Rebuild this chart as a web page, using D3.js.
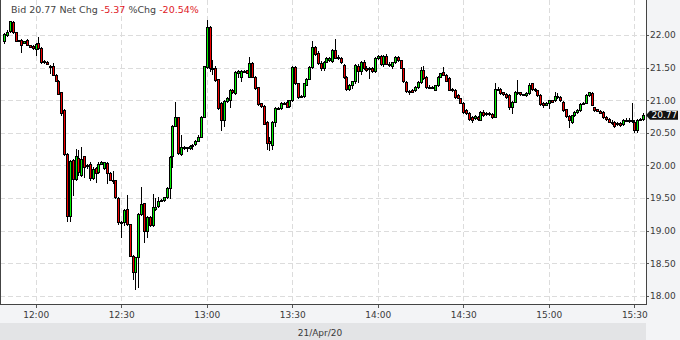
<!DOCTYPE html>
<html>
<head>
<meta charset="utf-8">
<style>
  body { margin: 0; background: #fff; font-family: "DejaVu Sans", sans-serif; }
  svg { display: block; }
  .grid line { stroke: #dcdcdc; stroke-dasharray: 5,3; shape-rendering: crispEdges; }
  .axis text { font-size: 9px; fill: #3a3a3a; font-family: "DejaVu Sans", sans-serif; }
  .axis line { stroke: #555; shape-rendering: crispEdges; }
  .axis path { display: none; }
  .wick { stroke: #000; shape-rendering: crispEdges; }
  .body { stroke: #000; stroke-width: 1; shape-rendering: crispEdges; }
</style>
</head>
<body>
<svg id="chart" width="680" height="340"></svg>
<script src="https://cdnjs.cloudflare.com/ajax/libs/d3/7.8.5/d3.min.js"></script>
<script>
// one-minute bars, 21 Apr 2020, first bar at 11:49
const firstBar = new Date(2020, 3, 21, 11, 49);

const open = [
  21.90,22.00,22.06,22.20,22.04,21.92,21.93,21.88,21.93,21.84,
  21.83,21.78,21.88,21.80,21.58,21.59,21.52,21.52,21.39,21.30,
  21.12,20.85,20.18,19.22,20.09,19.79,20.12,19.86,20.14,20.00,
  20.03,19.81,19.96,19.90,20.03,19.96,20.04,19.89,19.77,19.77,
  19.50,19.13,19.13,19.33,19.10,18.62,18.36,18.59,19.25,19.42,
  19.00,19.21,19.09,19.33,19.38,19.47,19.47,19.51,19.65,20.14,
  20.61,20.74,20.17,20.28,20.28,20.27,20.31,20.33,20.38,20.44,
  20.75,21.51,22.12,21.50,21.50,21.32,20.96,20.69,20.99,21.01,
  21.16,21.11,21.42,21.36,21.45,21.46,21.36,21.57,21.36,21.20,
  20.95,20.91,20.67,20.38,20.31,20.67,20.88,20.88,20.96,20.98,
  20.91,21.00,21.51,21.26,21.06,21.06,21.24,21.33,21.51,21.82,
  21.72,21.57,21.49,21.59,21.62,21.60,21.77,21.66,21.64,21.54,
  21.36,21.17,21.23,21.29,21.53,21.45,21.59,21.50,21.49,21.49,
  21.45,21.64,21.68,21.55,21.68,21.56,21.53,21.58,21.67,21.61,
  21.49,21.28,21.14,21.15,21.15,21.21,21.28,21.46,21.36,21.21,
  21.21,21.16,21.23,21.36,21.44,21.39,21.34,21.17,21.16,21.08,
  21.03,20.96,20.85,20.81,20.75,20.72,20.75,20.70,20.82,20.80,
  20.81,20.79,20.75,21.17,21.17,21.12,21.10,21.08,20.90,20.98,
  21.13,21.12,21.09,21.08,21.11,21.26,21.17,21.15,21.08,20.96,
  20.93,20.95,21.00,21.00,21.06,21.05,20.98,20.86,20.76,20.66,
  20.77,20.82,20.85,20.95,20.96,21.08,21.11,20.89,20.86,20.84,
  20.82,20.75,20.71,20.67,20.67,20.65,20.65,20.63,20.70,20.68,
  20.69,20.67,20.54,20.70,20.71
];
const high = [
  22.03,22.07,22.22,22.21,22.05,21.93,21.94,21.91,21.94,21.85,
  21.85,21.87,21.97,21.81,21.61,21.60,21.54,21.57,21.40,21.31,
  21.13,20.86,20.19,20.08,20.10,20.25,20.24,20.29,20.15,20.02,
  20.05,19.97,19.98,20.05,20.07,20.06,20.05,19.90,19.92,19.78,
  19.51,19.15,19.33,19.55,19.11,18.63,18.60,19.27,19.67,19.43,
  19.22,19.22,19.57,19.50,19.52,19.49,19.52,19.67,20.14,20.62,
  20.98,20.75,20.47,20.30,20.29,20.31,20.33,20.39,20.47,20.76,
  21.53,22.23,22.13,21.62,21.52,21.33,20.98,21.00,21.05,21.17,
  21.17,21.45,21.46,21.47,21.47,21.47,21.67,21.58,21.37,21.21,
  20.96,20.92,20.68,20.44,20.68,20.90,20.89,20.97,20.98,21.00,
  21.01,21.52,21.52,21.27,21.08,21.27,21.34,21.52,21.90,21.83,
  21.76,21.60,21.60,21.66,21.67,21.78,21.94,21.70,21.66,21.55,
  21.37,21.25,21.30,21.55,21.56,21.60,21.62,21.52,21.51,21.51,
  21.66,21.70,21.70,21.70,21.71,21.58,21.59,21.68,21.68,21.62,
  21.50,21.30,21.15,21.17,21.22,21.30,21.51,21.52,21.37,21.23,
  21.22,21.24,21.37,21.42,21.51,21.40,21.35,21.18,21.17,21.09,
  21.04,20.97,20.86,20.82,20.76,20.77,20.76,20.83,20.85,20.82,
  20.82,20.80,21.27,21.21,21.18,21.13,21.11,21.09,20.99,21.14,
  21.31,21.13,21.10,21.12,21.27,21.27,21.18,21.16,21.09,20.97,
  20.97,21.01,21.01,21.12,21.11,21.06,20.99,20.87,20.77,20.78,
  20.83,20.86,20.95,20.97,21.09,21.13,21.12,20.90,20.87,20.85,
  20.83,20.76,20.72,20.69,20.68,20.66,20.66,20.71,20.72,20.72,
  20.96,20.70,20.71,20.72,20.81
];
const low = [
  21.88,21.99,22.05,22.03,21.90,21.90,21.74,21.87,21.84,21.81,
  21.78,21.70,21.79,21.57,21.57,21.55,21.42,21.38,21.29,21.09,
  20.77,20.16,19.15,19.15,19.55,19.78,19.85,19.84,19.83,19.96,
  19.78,19.80,19.75,19.89,20.02,19.95,19.73,19.77,19.73,19.50,
  19.10,18.91,19.09,19.09,18.61,18.26,18.10,18.14,19.24,18.83,
  18.90,19.08,19.08,19.32,19.37,19.45,19.46,19.50,19.50,19.98,
  20.60,20.18,20.16,20.26,20.22,20.26,20.25,20.32,20.37,20.43,
  20.74,21.50,21.45,21.40,21.30,20.87,20.54,20.60,20.98,20.90,
  21.11,21.10,21.36,21.30,21.44,21.41,21.35,21.35,21.17,20.93,
  20.90,20.63,20.26,20.24,20.26,20.60,20.86,20.87,20.95,20.89,
  20.90,20.99,21.25,21.04,21.05,21.05,21.23,21.32,21.50,21.70,
  21.55,21.47,21.46,21.58,21.60,21.58,21.64,21.63,21.57,21.34,
  21.16,21.15,21.18,21.26,21.28,21.40,21.48,21.45,21.34,21.44,
  21.44,21.63,21.54,21.53,21.55,21.52,21.50,21.57,21.60,21.49,
  21.28,21.12,21.10,21.12,21.14,21.19,21.26,21.33,21.19,21.19,
  21.18,21.15,21.22,21.35,21.38,21.29,21.15,21.14,21.04,21.03,
  20.95,20.81,20.79,20.70,20.67,20.71,20.70,20.69,20.76,20.78,
  20.78,20.72,20.74,21.16,21.10,21.08,21.04,20.86,20.80,20.97,
  21.10,21.08,21.08,21.07,21.10,21.16,21.14,21.07,20.93,20.89,
  20.92,20.88,20.97,20.99,21.03,20.99,20.84,20.75,20.59,20.65,
  20.76,20.80,20.84,20.94,20.95,21.07,20.92,20.84,20.83,20.80,
  20.73,20.70,20.66,20.63,20.59,20.62,20.61,20.62,20.68,20.66,
  20.66,20.51,20.52,20.69,20.70
];
const close = [
  22.01,22.05,22.21,22.04,21.91,21.91,21.85,21.90,21.85,21.82,
  21.80,21.86,21.80,21.58,21.60,21.56,21.52,21.39,21.30,21.10,
  20.81,20.17,19.22,20.07,19.79,20.14,19.90,20.10,19.98,20.00,
  19.81,19.95,19.88,20.03,20.05,20.05,19.88,19.78,19.77,19.51,
  19.13,19.13,19.32,19.10,18.62,18.36,18.59,19.26,19.41,18.99,
  19.21,19.09,19.36,19.37,19.46,19.47,19.51,19.66,20.13,20.61,
  20.75,20.19,20.29,20.28,20.28,20.30,20.31,20.38,20.43,20.75,
  21.52,22.12,21.50,21.50,21.31,20.88,20.69,20.99,21.03,21.16,
  21.12,21.44,21.45,21.45,21.45,21.42,21.57,21.36,21.18,20.94,
  20.91,20.64,20.34,20.34,20.67,20.88,20.88,20.96,20.96,20.90,
  21.00,21.51,21.26,21.05,21.06,21.26,21.33,21.51,21.82,21.71,
  21.57,21.49,21.59,21.64,21.65,21.77,21.65,21.64,21.58,21.36,
  21.17,21.23,21.29,21.54,21.45,21.58,21.49,21.46,21.49,21.45,
  21.64,21.68,21.55,21.68,21.55,21.54,21.58,21.67,21.61,21.49,
  21.29,21.14,21.13,21.13,21.21,21.28,21.46,21.34,21.20,21.21,
  21.19,21.23,21.36,21.41,21.39,21.30,21.16,21.15,21.05,21.04,
  20.96,20.82,20.80,20.71,20.70,20.76,20.71,20.82,20.77,20.80,
  20.79,20.75,21.17,21.17,21.11,21.09,21.05,20.90,20.98,21.13,
  21.11,21.09,21.09,21.11,21.23,21.17,21.15,21.08,20.94,20.93,
  20.96,21.00,20.98,21.06,21.06,21.00,20.85,20.76,20.69,20.77,
  20.82,20.85,20.94,20.96,21.08,21.12,20.93,20.85,20.84,20.81,
  20.74,20.71,20.67,20.67,20.60,20.63,20.62,20.70,20.69,20.69,
  20.70,20.54,20.70,20.71,20.77
];

const priceTicks = [18.0, 18.5, 19.0, 19.5, 20.0, 20.5, 21.0, 21.5, 22.0];
const timeTicks = ["12:00", "12:30", "13:00", "13:30", "14:00", "14:30", "15:00", "15:30"];
const lastPrice = 20.77, netChg = -5.37, pctChg = -20.54;
const dateLabel = "21/Apr/20";

const W = 680, H = 340;
const plotW = 646, plotH = 304;

const svg = d3.select("#chart");

// panels
svg.append("rect").attr("width", W).attr("height", H).attr("fill", "#f3f4f6");
svg.append("rect").attr("width", plotW).attr("height", plotH).attr("fill", "#fff");
svg.append("rect").attr("x", 0).attr("y", 323).attr("width", plotW).attr("height", H - 323).attr("fill", "#e3e4e6");

const x = d3.scaleTime()
  .domain([new Date(2020, 3, 21, 11, 47, 30), new Date(2020, 3, 21, 15, 34, 5)])
  .range([0, plotW]);
const y = d3.scaleLinear().domain([17.877, 22.536]).range([plotH, 0]);

const parseT = d3.timeParse("%H:%M");
const tickDates = timeTicks.map(s => {
  const t = parseT(s);
  return new Date(2020, 3, 21, t.getHours(), t.getMinutes());
});

// grid
const grid = svg.append("g").attr("class", "grid");
grid.selectAll("line.h").data(priceTicks).join("line").attr("class", "h")
  .attr("x1", 0).attr("x2", plotW)
  .attr("y1", d => Math.round(y(d)) + 0.5).attr("y2", d => Math.round(y(d)) + 0.5);
grid.selectAll("line.v").data(tickDates).join("line").attr("class", "v")
  .attr("y1", 0).attr("y2", plotH)
  .attr("x1", d => Math.round(x(d)) + 0.5).attr("x2", d => Math.round(x(d)) + 0.5);

// candles
const bars = open.map((o, i) => ({
  t: d3.timeMinute.offset(firstBar, i), o, h: high[i], l: low[i], c: close[i]
}));
const px = d => Math.round(x(d.t));

svg.append("clipPath").attr("id", "plot-clip")
  .append("rect").attr("width", plotW).attr("height", plotH);
const cg = svg.append("g").attr("clip-path", "url(#plot-clip)");

cg.selectAll("line.wick").data(bars).join("line").attr("class", "wick")
  .attr("x1", d => px(d) + 0.5).attr("x2", d => px(d) + 0.5)
  .attr("y1", d => Math.round(y(d.h))).attr("y2", d => Math.round(y(d.l)) + 1);

cg.selectAll("rect.body").data(bars).join("rect").attr("class", "body")
  .attr("x", d => px(d) - 0.5)
  .attr("width", 2)
  .attr("y", d => Math.round(y(Math.max(d.o, d.c))) + 0.5)
  .attr("height", d => Math.max(1, Math.round(y(Math.min(d.o, d.c))) - Math.round(y(Math.max(d.o, d.c)))))
  .attr("fill", d => d.c >= d.o ? "#00f000" : "#f00000");

// axes
const yAxis = d3.axisRight(y).tickValues(priceTicks).tickFormat(d3.format(".2f"))
  .tickSize(3).tickPadding(1);
svg.append("g").attr("class", "axis").attr("transform", `translate(${plotW},0)`).call(yAxis);

const xAxis = d3.axisBottom(x).tickValues(tickDates).tickFormat(d3.timeFormat("%H:%M"))
  .tickSize(4).tickPadding(4);
svg.append("g").attr("class", "axis").attr("transform", `translate(0,${plotH})`).call(xAxis);

// frame lines
svg.append("line").attr("x1", 0.5).attr("x2", 0.5).attr("y1", 0).attr("y2", plotH)
  .attr("stroke", "#444").attr("shape-rendering", "crispEdges");
svg.append("line").attr("x1", plotW + 0.5).attr("x2", plotW + 0.5).attr("y1", 0).attr("y2", plotH + 1)
  .attr("stroke", "#444").attr("shape-rendering", "crispEdges");
svg.append("line").attr("x1", 0).attr("x2", plotW + 1).attr("y1", plotH + 0.5).attr("y2", plotH + 0.5)
  .attr("stroke", "#444").attr("shape-rendering", "crispEdges");

// date label
svg.append("text").attr("x", 320).attr("y", 335.5).attr("text-anchor", "middle")
  .attr("font-size", 9).attr("fill", "#3a3a3a").text(dateLabel);

// last price marker
const ly = y(lastPrice);
svg.append("path")
  .attr("d", `M${plotW},${ly} L${plotW + 4},${ly - 4.5} L678,${ly - 4.5} L678,${ly + 4.5} L${plotW + 4},${ly + 4.5} Z`)
  .attr("fill", "#111");
svg.append("text").attr("x", 651.5).attr("y", ly).attr("dy", "0.36em")
  .attr("font-size", 9).attr("fill", "#fff").text(lastPrice.toFixed(2));

// header
const hdr = svg.append("text").attr("x", 11).attr("y", 13.3).attr("font-size", 9.5).attr("fill", "#444");
hdr.append("tspan").text(`Bid ${lastPrice.toFixed(2)} Net Chg `);
hdr.append("tspan").attr("fill", "#e0191f").text(netChg.toFixed(2));
hdr.append("tspan").text(" %Chg ");
hdr.append("tspan").attr("fill", "#e0191f").text(pctChg.toFixed(2) + "%");
</script>
</body>
</html>
